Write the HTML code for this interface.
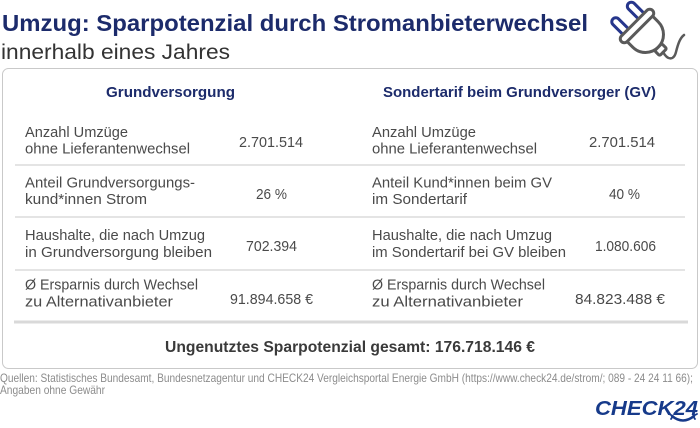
<!DOCTYPE html>
<html>
<head>
<meta charset="utf-8">
<style>
  html, body { margin: 0; padding: 0; background: #ffffff; }
  body { width: 700px; height: 428px; overflow: hidden; }
  svg { display: block; }
  text { font-family: "Liberation Sans", "DejaVu Sans", sans-serif; }
</style>
</head>
<body>
<svg width="700" height="428" viewBox="0 0 700 428" xmlns="http://www.w3.org/2000/svg">
  <rect x="0" y="0" width="700" height="428" fill="#ffffff"/>

  <!-- Title -->
  <text x="2" y="31" font-size="23" font-weight="bold" fill="#1c2b6b" textLength="586" lengthAdjust="spacingAndGlyphs">Umzug: Sparpotenzial durch Stromanbieterwechsel</text>
  <text x="1" y="59" font-size="21" fill="#333333" textLength="229" lengthAdjust="spacingAndGlyphs">innerhalb eines Jahres</text>

  <!-- Plug icon -->
  <g transform="translate(637,26) rotate(-45)" fill="#ffffff" stroke-linejoin="round" stroke-linecap="round">
    <path d="M -16 -4 V -18 A 4 4 0 0 1 -8 -18 V -4" fill="none" stroke="#26368c" stroke-width="3"/>
    <path d="M 6 -4 V -18 A 4 4 0 0 1 14 -18 V -4" fill="none" stroke="#26368c" stroke-width="3"/>
    <path d="M -18 4 L -18 12 A 18 18 0 0 0 18 12 L 18 4" stroke="#5a5a5a" stroke-width="3"/>
    <rect x="-5" y="30" width="10" height="7" rx="1.5" stroke="#5a5a5a" stroke-width="3"/>
    <rect x="-22" y="-4" width="44" height="8" rx="4" stroke="#5a5a5a" stroke-width="3"/>
  </g>
  <path d="M663,52 C668,61 674,60 676,52 C678,44 680,38 684,35" fill="none" stroke="#5a5a5a" stroke-width="2.5" stroke-linecap="round"/>

  <!-- Box -->
  <rect x="2.5" y="68.5" width="695" height="300" rx="6" ry="6" fill="none" stroke="#c9c9c9" stroke-width="1"/>

  <!-- Column headers -->
  <text x="106" y="97" font-size="15" font-weight="bold" fill="#1c2b6b" textLength="129" lengthAdjust="spacingAndGlyphs">Grundversorgung</text>
  <text x="383" y="97" font-size="15" font-weight="bold" fill="#1c2b6b" textLength="273" lengthAdjust="spacingAndGlyphs">Sondertarif beim Grundversorger (GV)</text>

  <!-- Separators -->
  <line x1="15" y1="165" x2="685" y2="165" stroke="#dcdcdc" stroke-width="1.5"/>
  <line x1="15" y1="217" x2="685" y2="217" stroke="#dcdcdc" stroke-width="1.5"/>
  <line x1="15" y1="270" x2="685" y2="270" stroke="#dcdcdc" stroke-width="1.5"/>
  <line x1="14" y1="322" x2="688" y2="322" stroke="#d9d9d9" stroke-width="3"/>

  <g font-size="15" fill="#4a4a4a">
    <!-- Left labels -->
    <text x="25" y="137" textLength="103" lengthAdjust="spacingAndGlyphs">Anzahl Umzüge</text>
    <text x="25" y="153.5" textLength="165" lengthAdjust="spacingAndGlyphs">ohne Lieferantenwechsel</text>
    <text x="25" y="187.5" textLength="170" lengthAdjust="spacingAndGlyphs">Anteil Grundversorgungs-</text>
    <text x="25" y="204" textLength="122" lengthAdjust="spacingAndGlyphs">kund*innen Strom</text>
    <text x="25" y="240" textLength="180" lengthAdjust="spacingAndGlyphs">Haushalte, die nach Umzug</text>
    <text x="25" y="257" textLength="187" lengthAdjust="spacingAndGlyphs">in Grundversorgung bleiben</text>
    <text x="25" y="289.5" textLength="173" lengthAdjust="spacingAndGlyphs">Ø Ersparnis durch Wechsel</text>
    <text x="25" y="306.5" textLength="148" lengthAdjust="spacingAndGlyphs">zu Alternativanbieter</text>

    <!-- Left values -->
    <text x="239" y="147" textLength="64" lengthAdjust="spacingAndGlyphs">2.701.514</text>
    <text x="256" y="199" textLength="31" lengthAdjust="spacingAndGlyphs">26 %</text>
    <text x="246" y="251" textLength="51" lengthAdjust="spacingAndGlyphs">702.394</text>
    <text x="230" y="304" textLength="83" lengthAdjust="spacingAndGlyphs">91.894.658 €</text>

    <!-- Right labels -->
    <text x="372" y="137" textLength="104" lengthAdjust="spacingAndGlyphs">Anzahl Umzüge</text>
    <text x="372" y="153.5" textLength="165" lengthAdjust="spacingAndGlyphs">ohne Lieferantenwechsel</text>
    <text x="372" y="187.5" textLength="180" lengthAdjust="spacingAndGlyphs">Anteil Kund*innen beim GV</text>
    <text x="372" y="204" textLength="95" lengthAdjust="spacingAndGlyphs">im Sondertarif</text>
    <text x="372" y="240" textLength="180" lengthAdjust="spacingAndGlyphs">Haushalte, die nach Umzug</text>
    <text x="372" y="257" textLength="194" lengthAdjust="spacingAndGlyphs">im Sondertarif bei GV bleiben</text>
    <text x="372" y="289.5" textLength="173" lengthAdjust="spacingAndGlyphs">Ø Ersparnis durch Wechsel</text>
    <text x="372" y="306.5" textLength="151" lengthAdjust="spacingAndGlyphs">zu Alternativanbieter</text>

    <!-- Right values -->
    <text x="589" y="147" textLength="66" lengthAdjust="spacingAndGlyphs">2.701.514</text>
    <text x="609" y="199" textLength="31" lengthAdjust="spacingAndGlyphs">40 %</text>
    <text x="595" y="251" textLength="61" lengthAdjust="spacingAndGlyphs">1.080.606</text>
    <text x="575" y="304" textLength="90" lengthAdjust="spacingAndGlyphs">84.823.488 €</text>
  </g>

  <!-- Total -->
  <text x="165" y="352" font-size="15.5" font-weight="bold" fill="#3a3a3a" textLength="370" lengthAdjust="spacingAndGlyphs">Ungenutztes Sparpotenzial gesamt:  176.718.146 €</text>

  <!-- Sources -->
  <text x="0" y="382" font-size="12" fill="#8c8c8c" textLength="693" lengthAdjust="spacingAndGlyphs">Quellen: Statistisches Bundesamt, Bundesnetzagentur und CHECK24 Vergleichsportal Energie GmbH (https://www.check24.de/strom/; 089 - 24 24 11 66);</text>
  <text x="0" y="394" font-size="12" fill="#8c8c8c" textLength="105" lengthAdjust="spacingAndGlyphs">Angaben ohne Gewähr</text>

  <!-- CHECK24 logo -->
  <text x="595" y="415" font-size="20" font-weight="bold" font-style="italic" fill="#163a8a" textLength="103" lengthAdjust="spacingAndGlyphs">CHECK24</text>
  <path d="M672,416 Q683,425 694,416" fill="none" stroke="#163a8a" stroke-width="2.5" stroke-linecap="round"/>
  <path d="M669,414 L673,416 L671,419" fill="none" stroke="#163a8a" stroke-width="1.8" stroke-linecap="round" stroke-linejoin="round"/>
  <path d="M697,414 L693,416 L695,419" fill="none" stroke="#163a8a" stroke-width="1.8" stroke-linecap="round" stroke-linejoin="round"/>
</svg>
</body>
</html>
